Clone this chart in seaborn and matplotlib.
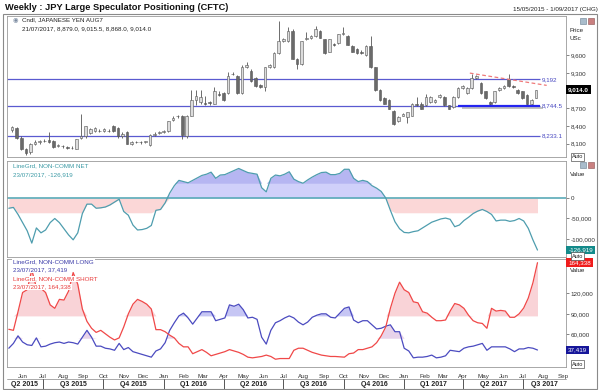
import numpy as np
import pandas as pd
import matplotlib
matplotlib.use("Agg")
import matplotlib.pyplot as plt
import matplotlib.dates as mdates
from matplotlib.patches import Rectangle
from matplotlib.lines import Line2D
from matplotlib.ticker import FuncFormatter
import seaborn as sns

# weekly candles, JPY futures (USc), first bar 15/05/2015
candle_start = "2015-05-15"
opens = [8330, 8370, 8200, 8010, 7950, 8100, 8125, 8140, 8160, 8150, 8060, 8060, 8040, 8020, 8010,
         8200, 8220, 8280, 8310, 8320, 8310, 8320, 8400, 8370, 8220, 8300, 8100, 8130, 8125, 8130,
         8070, 8250, 8280, 8300, 8310, 8500, 8560, 8570, 8220, 8570, 8840, 8800, 8790, 8800, 8780,
         8950, 8955, 8955, 9280, 9250, 8955, 9400, 9340, 9220, 9100, 9056, 9410, 9400, 9635, 9840,
         9840, 10018, 9546, 9457, 9870, 9900, 9930, 10018, 9870, 9664, 9790, 9811, 9959, 9930, 9760,
         9700, 9664, 9605, 9752, 9398, 9015, 8868, 8838, 8661, 8484, 8572, 8543, 8572, 8779, 8779,
         8750, 8808, 8808, 8897, 8897, 8750, 8720, 8897, 9044, 8956, 9044, 9221, 9133, 8986, 8808,
         8808, 9015, 9044, 9192, 9074, 9015, 8986, 8927, 8779, 8879]
highs = [8400, 8385, 8220, 8030, 8110, 8160, 8160, 8170, 8300, 8160, 8090, 8080, 8060, 8050, 8180,
         8600, 8400, 8360, 8380, 8340, 8360, 8340, 8420, 8380, 8290, 8310, 8140, 8150, 8150, 8150,
         8260, 8290, 8320, 8330, 8490, 8560, 8590, 8590, 8580, 9015, 9015, 9010, 8900, 8830, 9055,
         8990, 8970, 9310, 9320, 9270, 9430, 9490, 9360, 9240, 9120, 9410, 9450, 9650, 10177, 9890,
         10077, 10040, 9560, 9850, 9990, 9950, 10106, 10030, 9880, 9880, 9810, 9970, 10077, 9940, 9780,
         9720, 9690, 9782, 9930, 9410, 9030, 8890, 8850, 8670, 8560, 8620, 8640, 8790, 8897, 8800,
         8938, 8910, 8850, 8940, 8910, 8760, 8910, 9060, 9090, 9060, 9280, 9270, 9150, 9000, 8830,
         9000, 9060, 9090, 9280, 9090, 9030, 9000, 8940, 8850, 9015.5]
lows = [8300, 8180, 7990, 7910, 7930, 8080, 8100, 8120, 8110, 8030, 8040, 8030, 8010, 8000, 8000,
        8180, 8200, 8260, 8290, 8290, 8300, 8290, 8290, 8200, 8200, 8090, 8080, 8110, 8100, 8110,
        8050, 8230, 8260, 8280, 8300, 8480, 8540, 8180, 8200, 8560, 8750, 8780, 8750, 8760, 8770,
        8900, 8820, 8940, 9260, 8940, 8940, 9390, 9150, 9060, 9040, 8985, 9390, 9390, 9620, 9820,
        9830, 9540, 9368, 9440, 9860, 9880, 9920, 9890, 9620, 9650, 9760, 9800, 9950, 9770, 9650,
        9620, 9630, 9590, 9390, 9000, 8830, 8770, 8680, 8410, 8470, 8560, 8455, 8560, 8740, 8680,
        8730, 8790, 8790, 8880, 8740, 8680, 8700, 8880, 9030, 8940, 9030, 9200, 8940, 8850, 8750,
        8790, 9000, 9030, 9060, 9050, 8940, 8850, 8760, 8760, 8868]
closes = [8380, 8200, 8010, 7940, 8100, 8130, 8145, 8150, 8120, 8040, 8070, 8050, 8030, 8025, 8170,
          8220, 8390, 8340, 8360, 8310, 8340, 8310, 8310, 8220, 8270, 8100, 8120, 8125, 8130, 8135,
          8250, 8270, 8300, 8310, 8480, 8540, 8575, 8240, 8570, 8840, 8900, 8890, 8780, 8790, 8985,
          8920, 8840, 9250, 9290, 8955, 9400, 9430, 9160, 9075, 9060, 9400, 9430, 9635, 9840, 9870,
          10018, 9546, 9457, 9841, 9900, 9930, 10047, 9900, 9635, 9870, 9782, 9959, 9988, 9782, 9664,
          9640, 9640, 9752, 9398, 9015, 8838, 8779, 8690, 8425, 8543, 8602, 8631, 8779, 8750, 8690,
          8897, 8897, 8838, 8927, 8750, 8690, 8897, 9044, 9074, 9044, 9221, 9251, 8956, 8867, 8779,
          8986, 9044, 9074, 9074, 9064, 8956, 8867, 8779, 8838, 9014]

# CFTC non-commercial positions (thousands of contracts), weekly from 10/05/2015
cftc_start = "2015-05-10"
net_k = [-25, -23, -40, -60, -80, -110, -73, -85, -78, -60,
         -50, -60, -75, -90, -102, -85, -38, -15, -15, -25,
         -24, -22, -17, -10, -3, -33, -42, -66, -78, -77,
         -74, -67, -30, -28, -12, 12, 30, 43, 40, 37,
         43, 49, 55, 58, 63, 48, 56, 57, 62, 67,
         72, 67, 62, 60, 58, 25, 15, 48, 56, 54,
         58, 64, 46, 40, 36, 44, 51, 57, 62, 63,
         57, 57, 60, 70, 70, 48, 40, 43, 40, 30,
         24, 16, 0, -30, -58, -75, -84, -85, -82, -80,
         -73, -66, -59, -55, -51, -49, -52, -70, -66, -55,
         -47, -38, -32, -28, -33, -40, -56, -54, -54, -57,
         -55, -50, -56, -74, -102, -126.919]
long_k = [40, 47, 58, 49, 45, 44, 55, 42, 43, 46,
          48, 49, 47, 49, 48, 46, 56, 66, 56, 43,
          43, 40, 39, 37, 47, 38, 41, 35, 33, 31,
          29, 27, 36, 39, 48, 66, 77, 87, 91, 84,
          75, 84, 93, 93, 93, 80, 82, 84, 103, 101,
          104, 96, 84, 85, 82, 56, 46, 66, 77, 80,
          84, 87, 84, 78, 74, 78, 85, 88, 90, 90,
          85, 84, 91, 98, 100, 81, 77, 80, 80, 74,
          68, 69, 72, 74, 64, 64, 40, 36, 26, 27,
          27, 28, 30, 26, 27, 29, 37, 36, 35, 40,
          42, 43, 45, 47, 37, 42, 42, 42, 42, 39,
          35, 39, 39, 41, 40, 37.419]
short_k = [67.5, 66, 93, 121, 125, 154, 128, 127, 121, 103,
           98, 111, 110, 123, 150, 133, 97, 79, 69, 63,
           66, 61, 56, 52, 55, 71, 90, 104, 111, 108,
           104, 97, 67, 67, 64, 59, 55, 47, 42, 42,
           32, 35, 38, 34, 29, 31, 33, 35, 38, 36,
           34, 31, 27, 26, 27, 28, 30, 28, 24, 25,
           25, 25, 37, 40, 40, 37, 34, 32, 30, 29,
           28, 28, 27.5, 27, 32, 33, 38, 38, 40, 42,
           48, 58, 71, 98, 120, 136, 125, 121, 107.5, 106,
           93, 91, 85, 80, 80, 81, 94, 105, 103, 98,
           88, 80, 77, 76, 69, 98, 94, 95, 94, 85,
           85, 90, 98.5, 113, 135, 164.338]

# chart annotations
levels = [9192, 8744.5, 8233.1]
level_labels = ["9,192", "8,744.5", "8,233.1"]
support_span = ["2017-03-24", "2017-07-27"]
trend_dates = ["2017-04-11", "2017-08-06"]
trend_prices = [9298, 9089]
net_band = 36
pos_upper, pos_lower = 87, 54.5
quarters = ["Q2 2015", "Q3 2015", "Q4 2015", "Q1 2016", "Q2 2016", "Q3 2016",
            "Q4 2016", "Q1 2017", "Q2 2017", "Q3 2017"]

sns.set_style("white")
plt.rcParams["font.family"] = ["Liberation Sans", "DejaVu Sans"]

W, H = 600, 390
fx = lambda px: px / W
fy = lambda py: 1 - py / H

fig = plt.figure(figsize=(6, 3.9), dpi=100)


def panel(top, bottom):
    return fig.add_axes([fx(7), fy(bottom), fx(566) - fx(7), (bottom - top) / H])


ax_p = panel(16, 157)
ax_n = panel(161, 257)
ax_l = panel(259, 367)

cdates = pd.date_range(candle_start, periods=len(closes), freq="7D")
ldates = pd.date_range(cftc_start, periods=len(net_k), freq="7D")
xlo = mdates.date2num(pd.Timestamp("2015-05-07 06:00"))
xhi = mdates.date2num(pd.Timestamp("2017-09-04 10:00"))

# ---- price panel
o = np.array(opens); c = np.array(closes)
up = c >= o
body_lo = np.minimum(o, c)
body_h = np.maximum(np.abs(c - o), 8)
cd = mdates.date2num(cdates)
ax_p.vlines(cd, lows, highs, color="#555555", lw=0.6, zorder=2)
ax_p.bar(cd, body_h, bottom=body_lo, width=4.0,
         color=np.where(up, "#dcdcdc", "#6a6a6a"), edgecolor="#555555", linewidth=0.4, zorder=3)

lv_end = mdates.date2num(pd.Timestamp("2017-07-27"))
for lv, lab in zip(levels, level_labels):
    ax_p.hlines(lv, xlo, lv_end, color="#5a5ad0", lw=0.9, zorder=1)
    ax_p.text(lv_end + 2, lv, lab, fontsize=4.5, color="#4646c0", va="center", ha="left")
s0, s1 = mdates.date2num(pd.to_datetime(support_span))
ax_p.hlines(levels[1], s0, s1, color="#2424f0", lw=1.6, zorder=4)
ax_p.hlines(8697, s0 + 6, s1 + 5, color="#b0b0b0", lw=1.1, zorder=1)
ax_p.plot(mdates.date2num(pd.to_datetime(trend_dates)), trend_prices,
          color="#ef7a7a", lw=0.9, ls=(0, (3, 2)), zorder=4)
ax_p.set_ylim(7871, 10269)
ax_p.set_yticks([8100, 8400, 8700, 9300, 9600])
ax_p.yaxis.set_major_formatter(FuncFormatter(lambda v, _: f"{v:,.0f}"))
ax_p.text(1.004, closes[-1], "9,014.0", transform=ax_p.get_yaxis_transform(), fontsize=4.5,
          color="white", fontweight="bold", va="center", ha="left", zorder=6,
          bbox=dict(boxstyle="square,pad=0.3", fc="black", ec="none"))

# ---- net panel
nd = mdates.date2num(ldates)
net = np.array(net_k)
ax_n.fill_between(nd, 0, np.maximum(net, 0), color="#d0d0fa", lw=0)
ax_n.fill_between(nd, net_band, np.maximum(net, net_band), color="#b6b6f2", lw=0)
ax_n.fill_between(nd, 0, np.clip(net, -net_band, 0), color="#fbd7d7", lw=0)
ax_n.axhline(0, color="#5aaab8", lw=1.2)
sns.lineplot(x=nd, y=net, ax=ax_n, color="#4e9dae", lw=0.9)
ax_n.set_ylim(-143.9, 90.2)
ax_n.set_yticks([0, -50, -100])
ax_n.yaxis.set_major_formatter(FuncFormatter(lambda v, _: f"{v * 1000:,.0f}"))
ax_n.text(1.004, net_k[-1], "-126,919", transform=ax_n.get_yaxis_transform(), fontsize=4.5,
          color="white", va="center", ha="left", zorder=6,
          bbox=dict(boxstyle="square,pad=0.3", fc="#138a8a", ec="none"))

# ---- long / short panel
lg = np.array(long_k); sh = np.array(short_k)
ax_l.fill_between(nd, pos_upper, np.maximum(sh, pos_upper), color="#f9d3d7", lw=0)
ax_l.fill_between(nd, pos_upper, np.maximum(lg, pos_upper), color="#c6c6f4", lw=0)
ax_l.fill_between(nd, pos_lower, np.maximum(np.minimum(lg, sh), pos_lower), color="#e8d3ea", lw=0)
sns.lineplot(x=nd, y=lg, ax=ax_l, color="#4b4bc0", lw=0.9)
sns.lineplot(x=nd, y=sh, ax=ax_l, color="#f04848", lw=0.9)
ax_l.set_ylim(12.7, 169.7)
ax_l.set_yticks([60, 90, 120])
ax_l.yaxis.set_major_formatter(FuncFormatter(lambda v, _: f"{v * 1000:,.0f}"))
ax_l.text(1.004, short_k[-1], "164,338", transform=ax_l.get_yaxis_transform(), fontsize=4.5,
          color="white", va="center", ha="left", zorder=6,
          bbox=dict(boxstyle="square,pad=0.3", fc="#f01c1c", ec="none"))
ax_l.text(1.004, long_k[-1], "37,419", transform=ax_l.get_yaxis_transform(), fontsize=4.5,
          color="white", va="center", ha="left", zorder=6,
          bbox=dict(boxstyle="square,pad=0.3", fc="#16169a", ec="none"))

for ax in (ax_p, ax_n, ax_l):
    ax.set_xlim(xlo, xhi)
    ax.set_xlabel("")
    ax.set_ylabel("")
    for s in ax.spines.values():
        s.set_color("#9a9a9a")
        s.set_linewidth(0.6)
    ax.yaxis.tick_right()
    ax.tick_params(axis="y", direction="out", length=2.5, width=0.5, colors="#555555",
                   labelcolor="#333333", labelsize=4.5, pad=1)
ax_p.set_xticks([])
ax_n.set_xticks([])

# month axis
ax_l.xaxis.set_major_locator(mdates.MonthLocator())
ax_l.xaxis.set_major_formatter(mdates.DateFormatter("%b"))
ax_l.tick_params(axis="x", direction="out", length=2, width=0.5, colors="#777777",
                 labelcolor="#333333", labelsize=4.5, pad=3)

# quarter row
qstarts = pd.date_range("2015-04-01", "2017-07-01", freq="QS")
tr = ax_l.get_xaxis_transform()
ax_l.add_line(Line2D([xlo, xhi], [-0.111, -0.111], transform=tr, color="#9a9a9a", lw=0.6, clip_on=False))
for k, qs in enumerate(qstarts):
    a = max(mdates.date2num(qs), xlo)
    b = min(mdates.date2num(qs + pd.offsets.QuarterBegin(startingMonth=1)), xhi)
    if k > 0:
        ax_l.add_line(Line2D([a, a], [-0.111, -0.205], transform=tr, color="#555555", lw=0.7, clip_on=False))
    ax_l.text((a + b) / 2, -0.165, quarters[k], transform=tr, ha="center", va="center",
              fontsize=5, fontweight="bold", color="#222222")

# headers
fig.text(fx(5), fy(8), "Weekly : JPY Large Speculator Positioning (CFTC)", fontsize=6.7,
         fontweight="bold", va="center", color="#111111")
fig.text(fx(598), fy(10), "15/05/2015 - 1/09/2017 (CHG)", fontsize=4.5, ha="right", va="center",
         color="#222222")
fig.text(fx(15), fy(20), "\u25c9", fontsize=4.5, va="center", ha="center", color="#7a8aa0")
fig.text(fx(22), fy(20), "Cndl, JAPANESE YEN AUG7", fontsize=4.5, va="center", color="#222222")
fig.text(fx(22), fy(29), "21/07/2017, 8,879.0, 9,015.5, 8,868.0, 9,014.0", fontsize=4.5,
         va="center", color="#222222")
fig.text(fx(13), fy(166), "LineGrd, NON-COMM NET", fontsize=4.5, va="center", color="#3c9aa5")
fig.text(fx(13), fy(175), "23/07/2017, -126,919", fontsize=4.5, va="center", color="#3c9aa5")
wb = dict(boxstyle="square,pad=0.15", fc="white", ec="none")
fig.text(fx(13), fy(262), "LineGrd, NON-COMM LONG", fontsize=4.5, va="center", color="#3a3aa8", bbox=wb)
fig.text(fx(13), fy(270), "23/07/2017, 37,419", fontsize=4.5, va="center", color="#3a3aa8", bbox=wb)
fig.text(fx(13), fy(279), "LineGrd, NON-COMM SHORT", fontsize=4.5, va="center", color="#e83a3a", bbox=wb)
fig.text(fx(13), fy(287), "23/07/2017, 164,338", fontsize=4.5, va="center", color="#e83a3a", bbox=wb)

fig.text(fx(570), fy(30), "Price", fontsize=4.5, va="center", color="#222222")
fig.text(fx(570), fy(39), "USc", fontsize=4.5, va="center", color="#222222")
fig.text(fx(570), fy(175), "Value", fontsize=4.5, va="center", color="#222222")
fig.text(fx(570), fy(271), "Value", fontsize=4.5, va="center", color="#222222")
for yy in (157, 256, 364):
    fig.text(fx(572), fy(yy), "Auto", fontsize=4, va="center", color="#222222",
             bbox=dict(boxstyle="square,pad=0.2", fc="white", ec="#555555", lw=0.5))
for yy in (21, 165):
    fig.add_artist(Rectangle((fx(580), fy(yy + 3)), 6 / W, 6 / H, transform=fig.transFigure,
                             fc="#a9bccb", ec="#6a7f90", lw=0.4))
    fig.add_artist(Rectangle((fx(588), fy(yy + 3)), 6 / W, 6 / H, transform=fig.transFigure,
                             fc="#c98080", ec="#8a5050", lw=0.4))

fig.add_artist(Rectangle((fx(3), fy(389)), 594 / W, 375 / H, transform=fig.transFigure,
                         fill=False, ec="#8a8a8a", lw=0.8))

fig.savefig("out.png", dpi=100)
plt.close(fig)
